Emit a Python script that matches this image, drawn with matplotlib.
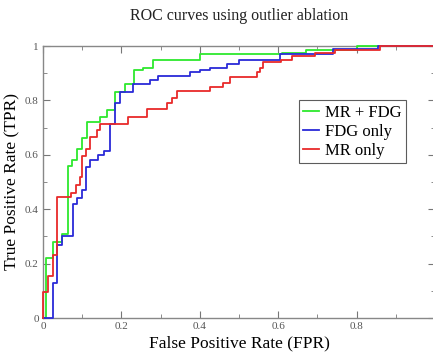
import numpy as np
import matplotlib.pyplot as plt

# ---- ROC step points (FPR, TPR) ----
fpr_mr_fdg = [0.0, 0.008, 0.026, 0.048, 0.064, 0.074, 0.087, 0.10, 0.112, 0.145, 0.163,
              0.184, 0.209, 0.232, 0.255, 0.281, 0.40, 0.61, 0.67, 0.80, 1.0]
tpr_mr_fdg = [0.0, 0.22, 0.28, 0.31, 0.56, 0.58, 0.62, 0.66, 0.72, 0.74, 0.765,
              0.83, 0.86, 0.91, 0.92, 0.95, 0.97, 0.975, 0.985, 1.0, 1.0]

fpr_fdg = [0.0, 0.026, 0.036, 0.048, 0.077, 0.087, 0.10, 0.11, 0.12, 0.14, 0.155,
           0.171, 0.184, 0.196, 0.23, 0.273, 0.293, 0.375, 0.40, 0.426, 0.47,
           0.50, 0.605, 0.74, 0.855, 1.0]
tpr_fdg = [0.0, 0.13, 0.27, 0.30, 0.42, 0.44, 0.47, 0.555, 0.58, 0.60, 0.615,
           0.715, 0.79, 0.83, 0.86, 0.875, 0.89, 0.905, 0.91, 0.92, 0.935,
           0.95, 0.97, 0.99, 1.0, 1.0]

fpr_mr = [0.0, 0.0, 0.013, 0.026, 0.036, 0.071, 0.084, 0.094, 0.10, 0.11, 0.12,
          0.138, 0.145, 0.217, 0.265, 0.316, 0.329, 0.342, 0.426, 0.459, 0.477,
          0.546, 0.554, 0.561, 0.607, 0.635, 0.694, 0.745, 0.86, 1.0]
tpr_mr = [0.0, 0.095, 0.155, 0.23, 0.445, 0.46, 0.49, 0.52, 0.595, 0.62, 0.665,
          0.69, 0.715, 0.74, 0.77, 0.79, 0.81, 0.835, 0.85, 0.865, 0.885,
          0.905, 0.92, 0.94, 0.95, 0.965, 0.975, 0.985, 1.0, 1.0]

labels = ["MR + FDG", "FDG only", "MR only"]
colors = ["#2de82d", "#2a2ad8", "#e82a2a"]

plt.rcParams['font.family'] = ['Liberation Serif', 'DejaVu Serif']

fig = plt.figure(figsize=(4.33, 3.52), dpi=100)
ax = fig.add_axes([43/433, 34/352, 392/433, 272/352])

for fx, ty, lab, col in zip([fpr_mr_fdg, fpr_fdg, fpr_mr],
                            [tpr_mr_fdg, tpr_fdg, tpr_mr], labels, colors):
    ax.step(fx, ty, where='post', color=col, lw=1.3, label=lab,
            zorder=3, clip_on=False)

ax.set_xlim(0, 1)
ax.set_ylim(0, 1)
ax.set_xticks([0, 0.2, 0.4, 0.6, 0.8, 1.0])
ax.set_xticklabels(["0", "0.2", "0.4", "0.6", "0.8", ""])
ax.set_yticks([0, 0.2, 0.4, 0.6, 0.8, 1.0])
ax.set_yticklabels(["0", "0.2", "0.4", "0.6", "0.8", "1"])
ax.set_xticks(np.arange(0.1, 1.0, 0.2), minor=True)
ax.set_yticks(np.arange(0.1, 1.0, 0.2), minor=True)
ax.tick_params(which='both', direction='in', top=True, right=True,
               color='#777777', labelsize=8, labelcolor='#555555', pad=3)
ax.tick_params(which='major', length=5)
ax.tick_params(which='minor', length=3)
for s in ax.spines.values():
    s.set_color('#888888')
    s.set_linewidth(1.0)

ax.set_xlabel("False Positive Rate (FPR)", fontsize=12.5, labelpad=3)
ax.set_ylabel("True Positive Rate (TPR)", fontsize=12.5, labelpad=3)
ax.set_title("ROC curves using outlier ablation", fontsize=11.5, pad=19, color='#222222')

leg = ax.legend(loc='upper left', bbox_to_anchor=(0.652, 0.80), fontsize=12,
                frameon=True, fancybox=False, handlelength=1.0, borderpad=0.25,
                labelspacing=0.2, handletextpad=0.35, borderaxespad=0)
leg.get_frame().set_edgecolor('#333333')
leg.get_frame().set_linewidth(0.8)

fig.savefig("out.png", dpi=100)
